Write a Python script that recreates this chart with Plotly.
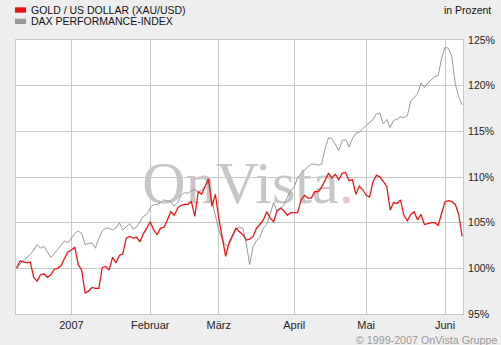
import pandas as pd
import plotly.graph_objects as go

# ---- data (percent, base 100 at start) ----
dates = pd.bdate_range("2006-12-08", "2007-06-08")

gold_usd = [100.0,100.8,100.7,100.6,100.7,99.0,98.6,99.3,99.4,99.0,
            99.3,99.9,100.0,100.3,101.1,101.8,102.0,102.3,100.4,99.8,
            97.3,97.5,97.9,97.8,97.8,100.1,100.2,99.8,101.2,100.6,
            101.4,101.6,103.3,103.5,103.3,103.4,102.9,103.8,104.4,105.1,
            104.2,103.7,104.4,104.5,105.3,106.2,105.8,106.6,106.9,107.0,
            107.0,107.3,105.7,108.4,108.1,108.9,109.8,106.8,108.1,105.5,
            103.4,101.3,102.8,103.6,104.4,104.0,103.7,103.1,103.2,103.5,
            104.4,104.8,105.3,106.2,105.5,105.1,106.3,106.6,106.3,105.8,
            106.1,106.1,106.1,107.5,108.0,107.7,107.7,108.4,108.4,108.9,
            109.7,110.4,109.9,110.3,109.7,110.4,110.5,109.6,109.7,108.1,
            109.0,108.6,108.0,107.8,109.5,110.2,110.0,109.5,109.0,106.4,
            107.2,107.1,107.5,105.8,105.2,105.9,106.2,105.3,105.9,104.8,
            104.9,105.0,105.0,104.7,106.0,107.3,107.4,107.3,107.0,105.9,
            103.5]

dax = [100.0,100.5,100.9,101.2,101.5,102.0,102.6,102.2,102.4,101.8,
       101.2,101.6,102.1,102.6,103.0,102.8,103.3,103.8,104.1,103.8,
       102.6,102.7,102.8,102.2,103.3,104.1,104.4,104.4,104.2,104.4,
       105.0,104.2,104.5,104.9,104.3,104.5,105.1,105.7,105.9,106.6,
       107.0,107.0,107.2,107.5,107.4,107.3,106.8,107.2,108.0,108.3,
       108.2,108.5,108.6,108.4,108.5,109.0,109.5,107.4,105.8,104.2,
       103.2,102.5,102.6,103.4,104.3,104.5,104.4,102.8,100.4,102.4,
       103.0,103.4,104.4,104.8,106.0,107.2,106.2,106.6,106.9,107.8,
       108.5,108.9,109.9,110.4,110.8,111.1,111.4,111.4,111.3,111.4,
       113.1,114.3,114.2,113.5,112.9,114.0,114.1,113.3,114.2,114.8,
       114.9,115.3,115.6,115.9,116.3,116.9,117.0,115.8,116.3,115.4,
       116.2,116.3,116.6,116.5,116.7,118.3,118.7,119.1,120.3,119.8,
       120.3,120.7,121.0,121.1,123.0,124.2,124.1,123.2,120.2,118.8,
       117.9]

series_names = ["GOLD / US DOLLAR (XAU/USD)", "DAX PERFORMANCE-INDEX"]
series_colors = ["#ee1111", "#999999"]

month_ticks = ["2007-01-01", "2007-02-01", "2007-03-01", "2007-04-02", "2007-05-01", "2007-06-01"]
month_labels = ["2007", "Februar", "März", "April", "Mai", "Juni"]
y_ticks = [95, 100, 105, 110, 115, 120, 125]
y_labels = ["95%", "100%", "105%", "110%", "115%", "120%", "125%"]

assert len(dates) == len(gold_usd) == len(dax)

# ---- layout geometry ----
W, H = 501, 345
L, R, T, B = 16, 38, 40, 31
PW, PH = W - L - R, H - T - B

def px(x):
    return (x - L) / PW

def py(y):
    return (T + PH - y) / PH

fig = go.Figure()
fig.add_trace(go.Scatter(x=dates, y=dax, mode="lines", name=series_names[1],
                         line=dict(color=series_colors[1], width=1)))
fig.add_trace(go.Scatter(x=dates, y=gold_usd, mode="lines", name=series_names[0],
                         line=dict(color=series_colors[0], width=1.25)))

grid = "#c8c8c8"
fig.update_layout(
    width=W, height=H,
    margin=dict(l=L, r=R, t=T, b=B, autoexpand=False),
    paper_bgcolor="#eeeeee",
    plot_bgcolor="#ffffff",
    showlegend=False,
    font=dict(family="Liberation Sans, Arial, sans-serif", size=11, color="#222222"),
    xaxis=dict(
        type="date", automargin=False,
        range=["2006-12-07 20:00", "2007-06-08 06:00"],
        rangebreaks=[dict(bounds=["sat", "mon"])],
        tickmode="array", tickvals=month_ticks, ticktext=month_labels,
        showgrid=True, gridcolor=grid, gridwidth=1,
        showline=True, linecolor=grid, linewidth=1, mirror=True,
        ticks="outside", ticklen=1, tickcolor="rgba(0,0,0,0)",
        tickfont=dict(size=11), zeroline=False,
    ),
    yaxis=dict(
        side="right", automargin=False,
        range=[95, 125],
        tickmode="array", tickvals=y_ticks, ticktext=y_labels,
        showgrid=True, gridcolor=grid, gridwidth=1,
        showline=True, linecolor=grid, linewidth=1, mirror=True,
        ticks="outside", ticklen=2, tickcolor="rgba(0,0,0,0)",
        tickfont=dict(size=10.5), zeroline=False,
    ),
)

# watermark below the traces
fig.add_shape(type="rect", xref="paper", yref="paper",
              x0=px(148), x1=px(348), y0=py(200), y1=py(152),
              line=dict(width=0), fillcolor="rgba(0,0,0,0)", layer="between",
              label=dict(text="OnVista<span style='color:#f2c4c8'>.</span>",
                         textposition="middle center",
                         font=dict(family="Liberation Serif, Times New Roman, serif",
                                   size=60, color="#c6c6c6")))

# legend (manual)
legend_rows = [(7.3, 12.7, 9.8), (18.7, 24.0, 21.0)]
for (ya, yb, yc), name, col in zip(legend_rows, series_names, series_colors):
    fig.add_shape(type="rect", xref="paper", yref="paper",
                  x0=px(15), x1=px(26), y0=py(yb), y1=py(ya),
                  line=dict(width=0), fillcolor=col)
    fig.add_annotation(x=px(29), y=py(yc), xref="paper", yref="paper",
                       text=name, showarrow=False, xanchor="left", yanchor="middle",
                       font=dict(size=10.5, color="#111111"))

fig.add_annotation(x=px(493), y=py(10), xref="paper", yref="paper",
                   text="in Prozent", showarrow=False, xanchor="right", yanchor="middle",
                   font=dict(size=10.5, color="#111111"))
fig.add_annotation(x=px(499), y=py(340), xref="paper", yref="paper",
                   text="© 1999-2007 OnVista Gruppe", showarrow=False,
                   xanchor="right", yanchor="middle",
                   font=dict(size=10.7, color="#999999"))

fig.write_html("out.html")
